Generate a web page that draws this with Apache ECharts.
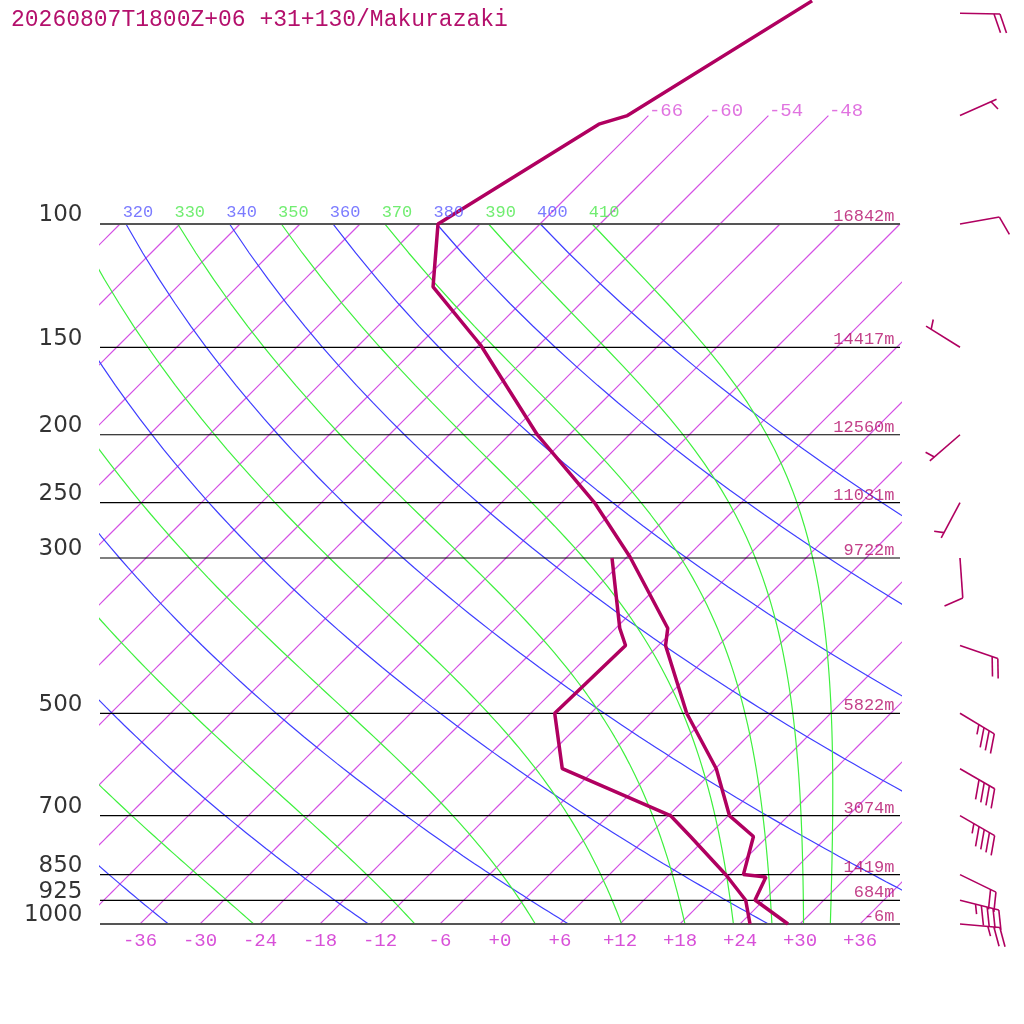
<!DOCTYPE html>
<html>
<head>
<meta charset="utf-8">
<title>Makurazaki sounding</title>
<script src="https://cdn.jsdelivr.net/npm/echarts@6.0.0/dist/echarts.min.js"></script>
<style>
  html, body { margin: 0; padding: 0; background: #fff; }
  #chart { width: 1024px; height: 1024px; }
</style>
</head>
<body>
<div id="chart"></div>
<script>
// sounding: pressure (hPa), temperature and dewpoint (degC)
var tempP = [1000, 924, 857, 850, 750, 700, 600, 500, 400, 378, 299, 250, 200, 149, 123, 100, 72, 70, 48];
var tempT = [28.8, 23.1, 21.9, 19.4, 16.6, 12.1, 6.1, -2.4, -11.3, -12.8, -23.7, -32.7, -45.2, -59.8, -70.4, -76.2, -70.1, -68.1, -61.1];
var dewP = [1000, 925, 851, 750, 700, 600, 500, 400, 378, 300];
var dewT = [25.0, 22.2, 17.7, 10.3, 6.2, -9.3, -15.6, -15.3, -17.6, -25.4];

// wind barbs: pressure, direction (deg), speed (kt)
var windP = [1000, 925, 850, 700, 600, 500, 400, 300, 250, 200, 150, 100, 70, 50];
var windDir = [95, 104, 116, 120, 120, 121, 109, 176, 208, 229, 302, 80, 66, 91];
var windSpd = [25, 45, 20, 45, 40, 35, 20, 10, 5, 5, 5, 10, 5, 20];

// standard levels and geopotential heights
var levelP = [100, 150, 200, 250, 300, 500, 700, 850, 925, 1000];
var levelH = ['16842m', '14417m', '12560m', '11031m', '9722m', '5822m', '3074m', '1419m', '684m', '-6m'];

// background lines
var isotherms = [-108, -102, -96, -90, -84, -78, -72, -66, -60, -54, -48, -42, -36, -30, -24, -18, -12, -6, 0, 6, 12, 18, 24, 30, 36];
var isothermsHigh = [-66, -60, -54, -48];   // these run up to 70 hPa and are labelled
var dryTheta = [240, 260, 280, 300, 320, 340, 360, 380, 400];
var moistTheta = [250, 270, 290, 310, 330, 350, 370, 390, 410];
var dryLabels = [320, 340, 360, 380, 400];
var moistLabels = [330, 350, 370, 390, 410];
var tempTicks = [-36, -30, -24, -18, -12, -6, 0, 6, 12, 18, 24, 30, 36];

var TITLE = '20260807T1800Z+06 +31+130/Makurazaki';
var LINE_COLOR = '#b00060';
var TEXT_COLOR = '#b4106c';
var PINK = '#d850d8';
var ISO_COLOR = '#d452e4';
var BLUE = '#3f3fff';
var GREEN = '#3ff03f';
var MONO = 'Liberation Mono';

// skew-T geometry: 10 px per degC, 304 px per ln(p)
var SKEW = 30.4;
var P_TOP = 1000 * Math.exp(-924 / 304);
var KAPPA = 0.2857;

function skewX(t, p) { return t + SKEW * Math.log(1000 / p); }

function lapse(p, tk) {
  var tc = tk - 273.15;
  var es = 6.112 * Math.exp(17.67 * tc / (tc + 243.5));
  var rs = 0.622 * es / (p - es);
  var Lv = 2.501e6, Rd = 287.04, Cp = 1005.7;
  return (Rd * tk + Lv * rs) / (p * (Cp + Lv * Lv * rs * 0.622 / (Rd * tk * tk)));
}

function isoLine(t, pEnd) {
  var pts = [];
  for (var p = 1000; p >= pEnd; p -= 10) pts.push([skewX(t, p), p]);
  return pts;
}

function dryLine(theta) {
  var pts = [];
  for (var p = 1000; p >= 100; p -= 10) {
    pts.push([skewX(theta * Math.pow(p / 1000, KAPPA) - 273.15, p), p]);
  }
  return pts;
}

function moistLine(theta) {
  var p = 100, t = theta * Math.pow(0.1, KAPPA), dp = 2;
  var pts = [[skewX(t - 273.15, p), p]];
  while (p < 999.9) {
    var k1 = lapse(p, t);
    var k2 = lapse(p + dp / 2, t + k1 * dp / 2);
    var k3 = lapse(p + dp / 2, t + k2 * dp / 2);
    var k4 = lapse(p + dp, t + k3 * dp);
    t += dp * (k1 + 2 * k2 + 2 * k3 + k4) / 6;
    p += dp;
    if (Math.round(p) % 10 === 0) pts.push([skewX(t - 273.15, p), p]);
  }
  return pts;
}

function thinLine(data, color) {
  return {
    type: 'line', data: data, showSymbol: false, symbol: 'none', silent: true,
    color: color, itemStyle: { color: color },
    lineStyle: { color: color, width: 1.2, opacity: 1 }, z: 1, clip: true, animation: false
  };
}

var series = [];

isotherms.forEach(function (t) {
  var pEnd = isothermsHigh.indexOf(t) >= 0 ? 70 : 100;
  series.push(thinLine(isoLine(t, pEnd), ISO_COLOR));
});
dryTheta.forEach(function (th) { series.push(thinLine(dryLine(th), BLUE)); });
moistTheta.forEach(function (th) { series.push(thinLine(moistLine(th), GREEN)); });

// pressure levels
levelP.forEach(function (p) {
  var edge = (p === 100 || p === 1000);
  series.push({
    type: 'line', data: [[-40, p], [0, p], [40, p]], showSymbol: false, symbol: 'none', silent: true,
    lineStyle: { color: edge ? '#555' : '#000', width: edge ? 2 : 1.2 }, z: 2, animation: false
  });
});

// sounding profile
series.push({
  type: 'line', data: tempP.map(function (p, i) { return [skewX(tempT[i], p), p]; }),
  showSymbol: false, symbol: 'none', silent: true, clip: true,
  lineStyle: { color: LINE_COLOR, width: 3.5 }, z: 3, animation: false
});
series.push({
  type: 'line', data: dewP.map(function (p, i) { return [skewX(dewT[i], p), p]; }),
  showSymbol: false, symbol: 'none', silent: true, clip: true,
  lineStyle: { color: LINE_COLOR, width: 3.5 }, z: 3, animation: false
});

function labelSeries(data, label) {
  return {
    type: 'scatter', data: data, symbolSize: 1, silent: true, clip: false, z: 5, animation: false,
    itemStyle: { color: 'rgba(0,0,0,0)' },
    label: Object.assign({ show: true, formatter: '{b}' }, label)
  };
}

// pressure labels on the left, heights on the right
series.push(labelSeries(levelP.map(function (p) { return { value: [-40, p], name: String(p) }; }),
  { position: 'left', distance: 17, verticalAlign: 'bottom', offset: [0, 3],
    color: '#000', fontFamily: 'DejaVu Sans', fontSize: 23 }));
series.push(labelSeries(levelP.map(function (p, i) { return { value: [40, p], name: levelH[i] }; }),
  { position: 'left', distance: 5, verticalAlign: 'bottom', offset: [0, 1],
    color: TEXT_COLOR, fontFamily: MONO, fontSize: 17 }));

// theta labels at 100 hPa
var thetaItems = [];
dryLabels.forEach(function (th) {
  thetaItems.push({ value: [skewX(th * Math.pow(0.1, KAPPA) - 273.15, 100), 100], name: String(th), label: { color: '#5a5aff' } });
});
moistLabels.forEach(function (th) {
  thetaItems.push({ value: [skewX(th * Math.pow(0.1, KAPPA) - 273.15, 100), 100], name: String(th), label: { color: '#4ee84e' } });
});
series.push(labelSeries(thetaItems, { position: 'top', distance: 3, offset: [12, 0], fontFamily: MONO, fontSize: 17 }));

// isotherm labels at the top
series.push(labelSeries(isothermsHigh.map(function (t) { return { value: [skewX(t, 70), 70], name: String(t) }; }),
  { position: 'right', distance: 0, verticalAlign: 'bottom', offset: [0, 5], color: PINK, fontFamily: MONO, fontSize: 19 }));

// wind barbs
function renderBarb(params, api) {
  var s = api.coord([api.value(0), api.value(1)]);
  var dir = api.value(2) * Math.PI / 180;
  var spd = api.value(3);
  var ux = Math.sin(dir), uy = -Math.cos(dir);
  var ex = s[0] + 40 * ux, ey = s[1] + 40 * uy;
  var a = 70 * Math.PI / 180;
  var bx = ux * Math.cos(a) - uy * Math.sin(a);
  var by = ux * Math.sin(a) + uy * Math.cos(a);
  var segs = [[s[0], s[1], ex, ey]];
  var full = Math.floor(spd / 10), half = (spd % 10) >= 5;
  var pos = (full === 0 && half) ? 6 : 0;
  for (var i = 0; i < full; i++) {
    var px = ex - pos * ux, py = ey - pos * uy;
    segs.push([px, py, px + 20 * bx, py + 20 * by]);
    pos += 6;
  }
  if (half) {
    var hx = ex - pos * ux, hy = ey - pos * uy;
    segs.push([hx, hy, hx + 10 * bx, hy + 10 * by]);
  }
  return {
    type: 'group',
    children: segs.map(function (g) {
      return { type: 'line', shape: { x1: g[0], y1: g[1], x2: g[2], y2: g[3] },
        style: { stroke: LINE_COLOR, lineWidth: 1.6 } };
    })
  };
}

series.push({
  type: 'custom', xAxisIndex: 1, yAxisIndex: 1, silent: true, animation: false,
  data: windP.map(function (p, i) { return [0.5, p, windDir[i], windSpd[i]]; }),
  encode: { x: 0, y: 1 },
  renderItem: renderBarb, z: 4
});

var chart = echarts.init(document.getElementById('chart'));
chart.setOption({
  animation: false,
  backgroundColor: '#fff',
  title: {
    text: TITLE, left: 6, top: 3,
    textStyle: { color: TEXT_COLOR, fontFamily: MONO, fontSize: 23, fontWeight: 'normal' }
  },
  grid: [
    { left: 100, right: 124, top: 0, bottom: 100 },
    { left: 920, width: 80, top: 0, bottom: 100 }
  ],
  xAxis: [
    {
      gridIndex: 0, type: 'value', min: -40, max: 40,
      axisLine: { show: false }, axisTick: { show: false }, splitLine: { show: false },
      axisLabel: {
        customValues: tempTicks, margin: 7,
        color: PINK, fontFamily: MONO, fontSize: 19,
        formatter: function (v) { return v >= 0 ? '+' + v : String(v); }
      }
    },
    { gridIndex: 1, type: 'value', min: 0, max: 1, show: false }
  ],
  yAxis: [
    {
      gridIndex: 0, type: 'log', logBase: 10, min: P_TOP, max: 1000, inverse: true,
      axisLine: { show: false }, axisTick: { show: false }, axisLabel: { show: false }, splitLine: { show: false }
    },
    { gridIndex: 1, type: 'log', logBase: 10, min: P_TOP, max: 1000, inverse: true, show: false }
  ],
  series: series
});
</script>
</body>
</html>
